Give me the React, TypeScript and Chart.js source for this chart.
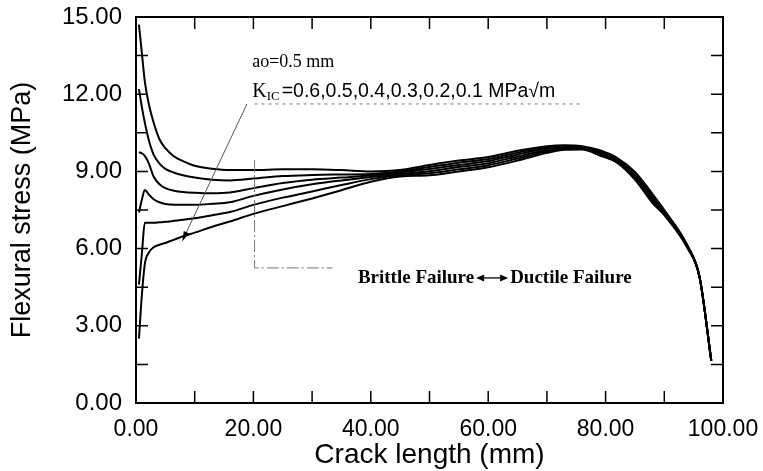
import { useEffect, useRef } from "react";
import { Chart, registerables } from "chart.js";
Chart.register(...registerables);

// Crack length (mm) sample positions shared by all curves
const crackLength = [0.5, 1.0, 1.5, 2.2, 3, 4, 5, 6.5, 8, 10, 13, 16, 20, 25, 30, 35, 40, 45, 50, 55, 60, 65, 70, 73, 76, 79, 82, 85, 88, 90, 94, 96, 98];

// Flexural stress (MPa) for each K_IC value
const stressK06 = [14.7, 13.6, 12.5, 11.6, 10.9, 10.25, 9.9, 9.58, 9.4, 9.22, 9.1, 9.05, 9.05, 9.08, 9.08, 9.05, 9.0, 9.05, 9.25, 9.42, 9.56, 9.8, 9.98, 10.02, 9.98, 9.82, 9.52, 8.98, 8.12, 7.5, 6.1, 4.9, 1.65];
const stressK05 = [12.2, 11.5, 10.9, 10.2, 9.65, 9.3, 9.1, 8.95, 8.85, 8.76, 8.68, 8.65, 8.72, 8.82, 8.86, 8.88, 8.9, 9.0, 9.17, 9.34, 9.48, 9.73, 9.93, 9.98, 9.95, 9.78, 9.48, 8.92, 8.05, 7.46, 6.08, 4.9, 1.65];
const stressK04 = [9.75, 9.7, 9.6, 9.3, 8.8, 8.5, 8.35, 8.25, 8.2, 8.17, 8.15, 8.18, 8.35, 8.55, 8.68, 8.76, 8.84, 8.95, 9.09, 9.25, 9.4, 9.66, 9.88, 9.94, 9.93, 9.74, 9.44, 8.86, 7.98, 7.42, 6.06, 4.9, 1.65];
const stressK03 = [7.4, 7.9, 8.28, 8.1, 7.92, 7.8, 7.73, 7.7, 7.7, 7.7, 7.74, 7.8, 8.05, 8.3, 8.5, 8.65, 8.78, 8.9, 9.01, 9.17, 9.32, 9.58, 9.82, 9.91, 9.9, 9.7, 9.41, 8.8, 7.91, 7.38, 6.04, 4.9, 1.65];
const stressK02 = [4.6, 5.8, 7.0, 7.0, 7.0, 7.02, 7.04, 7.08, 7.12, 7.18, 7.3, 7.42, 7.7, 7.98, 8.22, 8.47, 8.7, 8.85, 8.93, 9.08, 9.24, 9.5, 9.77, 9.87, 9.88, 9.66, 9.37, 8.74, 7.84, 7.34, 6.02, 4.9, 1.65];
const stressK01 = [2.5, 4.2, 5.4, 5.85, 6.05, 6.15, 6.22, 6.35, 6.48, 6.62, 6.85, 7.05, 7.35, 7.65, 7.95, 8.27, 8.6, 8.8, 8.85, 9.0, 9.16, 9.42, 9.72, 9.84, 9.85, 9.62, 9.33, 8.68, 7.77, 7.3, 6.0, 4.9, 1.65];

const seriesLabels = ["K_IC=0.6", "K_IC=0.5", "K_IC=0.4", "K_IC=0.3", "K_IC=0.2", "K_IC=0.1"];
const allSeries = [stressK06, stressK05, stressK04, stressK03, stressK02, stressK01];

const xTickLabels = ["0.00", "20.00", "40.00", "60.00", "80.00", "100.00"];
const yTickLabels = ["0.00", "3.00", "6.00", "9.00", "12.00", "15.00"];

const SANS = "'Liberation Sans', Arial, Helvetica, sans-serif";
const SERIF = "'Liberation Serif', 'Times New Roman', Times, serif";

const framePlugin = {
  id: "frameAndNotes",
  afterDatasetsDraw(chart: any) {
    const { ctx, chartArea } = chart;
    const xs = chart.scales.x;
    const ys = chart.scales.y;
    const { left, right, top, bottom } = chartArea;
    ctx.save();
    // frame
    ctx.strokeStyle = "#000";
    ctx.lineWidth = 2;
    ctx.strokeRect(left, top, right - left, bottom - top);
    // inward ticks
    ctx.lineWidth = 1.5;
    const tl = 12;
    ctx.beginPath();
    for (let v = 10; v < 100; v += 10) {
      const px = xs.getPixelForValue(v);
      ctx.moveTo(px, bottom);
      ctx.lineTo(px, bottom - tl);
      ctx.moveTo(px, top);
      ctx.lineTo(px, top + tl);
    }
    for (let v = 1.5; v < 15; v += 1.5) {
      const py = ys.getPixelForValue(v);
      ctx.moveTo(left, py);
      ctx.lineTo(left + tl, py);
      ctx.moveTo(right, py);
      ctx.lineTo(right - tl, py);
    }
    ctx.stroke();

    const X = (v: number) => xs.getPixelForValue(v);
    const Y = (v: number) => ys.getPixelForValue(v);

    // dotted line under the K_IC text
    ctx.strokeStyle = "#777";
    ctx.lineWidth = 1;
    ctx.setLineDash([3, 4]);
    ctx.beginPath();
    ctx.moveTo(X(20.2), Y(11.62));
    ctx.lineTo(X(75.6), Y(11.62));
    ctx.stroke();

    // dash-dot boundary at 20 mm
    ctx.setLineDash([12, 3, 2, 3]);
    ctx.beginPath();
    ctx.moveTo(X(20.2), Y(9.44));
    ctx.lineTo(X(20.2), Y(5.25));
    ctx.lineTo(X(33.5), Y(5.25));
    ctx.stroke();
    ctx.setLineDash([]);

    // leader arrow
    const ax0 = X(18.9), ay0 = Y(11.62), ax1 = X(7.9), ay1 = Y(6.3);
    ctx.strokeStyle = "#555";
    ctx.beginPath();
    ctx.moveTo(ax0, ay0);
    ctx.lineTo(ax1, ay1);
    ctx.stroke();
    const ang = Math.atan2(ay1 - ay0, ax1 - ax0);
    ctx.fillStyle = "#000";
    ctx.beginPath();
    ctx.moveTo(ax1, ay1);
    ctx.lineTo(ax1 - 10 * Math.cos(ang - 0.3), ay1 - 10 * Math.sin(ang - 0.3));
    ctx.lineTo(ax1 - 10 * Math.cos(ang + 0.3), ay1 - 10 * Math.sin(ang + 0.3));
    ctx.closePath();
    ctx.fill();

    // texts
    ctx.fillStyle = "#000";
    ctx.textBaseline = "middle";
    ctx.textAlign = "left";
    ctx.font = `18px ${SERIF}`;
    ctx.fillText("ao=0.5 mm", X(19.8), Y(13.25));

    let tx = X(19.8);
    const ky = Y(12.09);
    ctx.font = `20px ${SERIF}`;
    ctx.fillText("K", tx, ky);
    tx += ctx.measureText("K").width;
    ctx.font = `13px ${SERIF}`;
    ctx.fillText("IC", tx, ky + 5);
    tx += ctx.measureText("IC").width + 2;
    ctx.font = `19.5px ${SANS}`;
    ctx.fillText("=0.6,0.5,0.4,0.3,0.2,0.1 MPa\u221Am", tx, ky);

    ctx.font = `bold 19px ${SERIF}`;
    let bx = X(37.8);
    const by = Y(4.86);
    ctx.fillText("Brittle Failure", bx, by);
    bx += ctx.measureText("Brittle Failure").width + 2;
    const arrowLen = 32;
    ctx.lineWidth = 1.3;
    ctx.strokeStyle = "#000";
    ctx.beginPath();
    ctx.moveTo(bx + 3, by);
    ctx.lineTo(bx + arrowLen - 3, by);
    ctx.stroke();
    ctx.beginPath();
    ctx.moveTo(bx, by);
    ctx.lineTo(bx + 8, by - 3.5);
    ctx.lineTo(bx + 8, by + 3.5);
    ctx.closePath();
    ctx.moveTo(bx + arrowLen, by);
    ctx.lineTo(bx + arrowLen - 8, by - 3.5);
    ctx.lineTo(bx + arrowLen - 8, by + 3.5);
    ctx.closePath();
    ctx.fill();
    ctx.fillText("Ductile Failure", bx + arrowLen + 2, by);
    ctx.restore();
  },
};

const noOverflow = (s: any) => {
  s.paddingTop = 0;
  s.paddingBottom = 0;
  s.paddingLeft = 0;
  s.paddingRight = 0;
};

export default function App() {
  const ref = useRef<HTMLCanvasElement | null>(null);
  useEffect(() => {
    if (!ref.current) return;
    const datasets = allSeries.map((vals, i) => ({
      label: seriesLabels[i],
      data: crackLength.map((x, j) => ({ x, y: vals[j] })),
      borderColor: "#000",
      borderWidth: 2,
      pointRadius: 0,
      fill: false,
      cubicInterpolationMode: "monotone" as const,
    }));
    const chart = new Chart(ref.current, {
      type: "line",
      data: { datasets },
      options: {
        animation: false,
        responsive: false,
        layout: { padding: { top: 17, right: 40, left: 0, bottom: 0 } },
        plugins: { legend: { display: false }, tooltip: { enabled: false } },
        scales: {
          x: {
            type: "linear",
            min: 0,
            max: 100,
            grid: { display: false, drawTicks: false },
            border: { display: false },
            ticks: {
              stepSize: 20,
              padding: 13,
              color: "#000",
              font: { family: SANS, size: 23 },
              callback: (v: any) => xTickLabels[Math.round(Number(v) / 20)] ?? "",
              maxRotation: 0,
            },
            title: {
              display: true,
              text: "Crack length (mm)",
              color: "#000",
              font: { family: SANS, size: 28, lineHeight: 1.15 },
              padding: { top: 0, bottom: 0 },
            },
            afterFit: (s: any) => {
              s.height = 68;
              noOverflow(s);
            },
          },
          y: {
            min: 0,
            max: 15,
            grid: { display: false, drawTicks: false },
            border: { display: false },
            ticks: {
              stepSize: 3,
              padding: 14,
              color: "#000",
              font: { family: SANS, size: 24 },
              callback: (v: any) => yTickLabels[Math.round(Number(v) / 3)] ?? "",
            },
            title: {
              display: true,
              text: "Flexural stress (MPa)",
              color: "#000",
              font: { family: SANS, size: 27 },
              padding: { top: 6, bottom: 0 },
            },
            afterFit: (s: any) => {
              s.width = 136;
              noOverflow(s);
            },
          },
        },
      },
      plugins: [framePlugin],
    });
    return () => chart.destroy();
  }, []);
  return (
    <div style={{ position: "fixed", left: 0, top: 0, width: 763, height: 471, background: "#fff" }}>
      <canvas ref={ref} width={763} height={471} style={{ display: "block" }} />
    </div>
  );
}
